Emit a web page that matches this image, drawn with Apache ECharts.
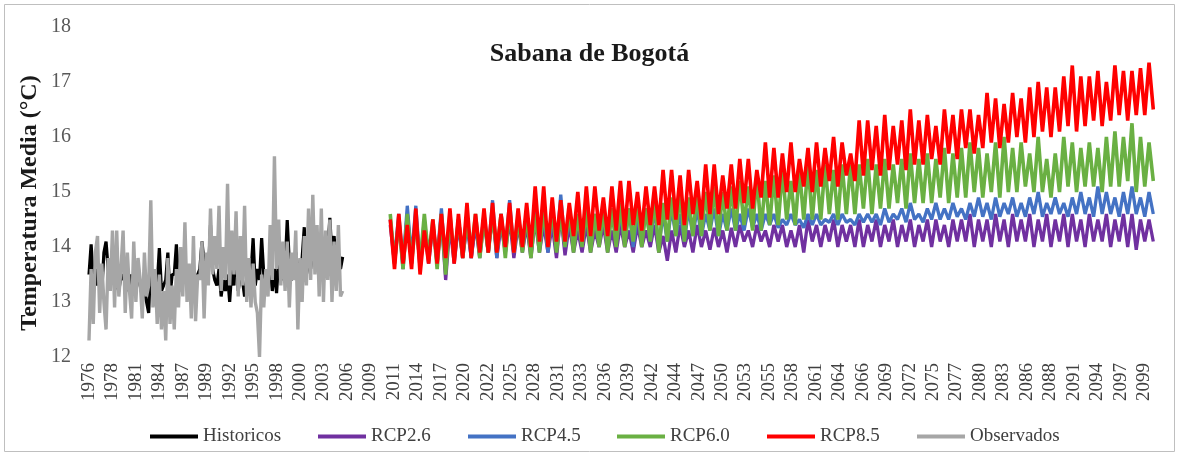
<!DOCTYPE html>
<html>
<head>
<meta charset="utf-8">
<script src="https://cdn.jsdelivr.net/npm/echarts@6/dist/echarts.min.js"></script>
<style>
  html, body { margin: 0; padding: 0; background: #ffffff; }
  #chart { width: 1179px; height: 458px; }
</style>
</head>
<body>
<div id="chart"></div>
<script>
// Monthly category axis, January 1976 to December 2100
const firstYear = 1976;
const lastYear = 2100;

// Historical period (quarterly readings, 1976-2005)
const histStart = 1976;
const historicos = [
  13.5, 14.05, 13.4, 13.6,   13.3, 13.5, 13.2, 13.9,   14.1, 13.6, 13.3, 13.5,
  13.6, 13.3, 13.2, 13.5,    13.4, 13.6, 13.2, 13.3,   13.5, 13.2, 13.4, 13.6,
  13.3, 13.1, 13.2, 13.0,    12.8, 13.8, 13.1, 13.4,   13.3, 13.98, 13.2, 13.3,
  13.4, 13.9, 13.1, 13.5,    13.5, 14.05, 13.4, 13.2,  13.5, 13.4, 13.6, 13.3,
  13.2, 13.4, 13.3, 13.5,    13.6, 14.1, 13.7, 13.5,   13.5, 14.4, 13.6, 13.4,
  13.3, 13.6, 13.1, 13.4,    13.2, 13.5, 13.0, 13.6,   13.3, 14.1, 13.2, 13.5,
  13.4, 13.1, 13.3, 13.2,    13.5, 14.16, 13.3, 13.6,  13.4, 14.16, 13.5, 13.3,
  13.4, 13.7, 13.2, 13.6,    13.16, 13.8, 13.5, 13.4,  13.6, 14.49, 13.7, 13.4,
  13.5, 13.9, 13.6, 13.7,    13.8, 14.36, 13.5, 13.7,  13.6, 14.1, 13.7, 13.9,
  13.5, 13.9, 13.6, 13.8,    13.9, 14.53, 13.8, 14.2,  13.7, 13.9, 13.6, 13.82
];
const observados = [
  12.3, 13.6, 12.6, 13.9,    14.2, 12.8, 13.7, 13.0,   12.5, 13.8, 13.2, 14.3,
  12.9, 14.3, 13.1, 13.6,    14.3, 12.8, 13.9, 13.2,   12.7, 14.1, 13.0, 13.8,
  13.4, 12.7, 13.9, 13.1,    13.3, 14.85, 12.9, 13.6,  12.6, 13.5, 12.5, 13.2,
  12.3, 13.8, 12.6, 13.3,    12.5, 13.6, 12.9, 14.0,   13.1, 14.45, 13.0, 13.7,
  12.7, 14.2, 12.65, 13.5,   13.4, 14.1, 12.7, 13.9,   13.3, 14.7, 13.5, 14.2,
  13.6, 14.75, 13.2, 14.0,   13.4, 15.15, 13.3, 14.3,  13.5, 14.65, 13.1, 14.2,
  13.3, 14.75, 13.0, 13.8,   12.9, 13.7, 13.0, 12.8,   12.0, 13.5, 12.9, 13.6,
  13.1, 14.4, 13.4, 15.65,   13.6, 14.5, 13.3, 14.1,   13.2, 14.1, 12.9, 13.9,
  13.4, 14.3, 12.5, 13.8,    13.0, 14.2, 13.3, 14.7,   13.4, 14.95, 13.5, 14.4,
  13.1, 14.7, 13.0, 14.3,    13.4, 14.5, 13.0, 14.1,   13.2, 14.4, 13.1, 13.2
];

// Scenario period (yearly seasonal high and low, 2011-2100)
const projStart = 2011;
const rcp26High = [
  14.4, 14.5, 14.6, 14.6, 14.4, 14.4, 14.5, 14.4, 14.4, 14.4,
  14.4, 14.5, 14.6, 14.4, 14.5, 14.4, 14.4, 14.5, 14.4, 14.4,
  14.6, 14.4, 14.3, 14.4, 14.3, 14.4, 14.3, 14.4, 14.3, 14.4,
  14.3, 14.4, 14.2, 14.3, 14.4, 14.3, 14.4, 14.3, 14.35, 14.3,
  14.35, 14.4, 14.3, 14.4, 14.3, 14.4, 14.4, 14.3, 14.4, 14.5,
  14.4, 14.4, 14.5, 14.4, 14.4, 14.5, 14.4, 14.5, 14.4, 14.5,
  14.4, 14.5, 14.4, 14.5, 14.5, 14.4, 14.5, 14.5, 14.6, 14.5,
  14.5, 14.6, 14.5, 14.6, 14.5, 14.6, 14.5, 14.6, 14.5, 14.6,
  14.6, 14.5, 14.6, 14.5, 14.6, 14.5, 14.6, 14.6, 14.5, 14.5
];
const rcp26Low = [
  13.7, 13.6, 13.7, 13.6, 13.7, 13.7, 13.4, 13.7, 13.8, 13.8,
  13.8, 13.9, 13.8, 13.9, 13.8, 13.9, 13.8, 13.9, 13.9, 13.8,
  13.85, 13.9, 13.9, 13.9, 14.0, 13.9, 13.9, 14.0, 13.9, 14.0,
  14.0, 13.9, 13.75, 13.9, 14.0, 13.9, 14.0, 13.95, 14.0, 13.9,
  14.0, 14.1, 14.0, 14.1, 14.0, 14.1, 14.0, 14.0, 13.9, 14.1,
  14.0, 14.1, 14.0, 14.1, 14.0, 14.0, 14.1, 14.0, 14.1, 14.0,
  14.1, 14.0, 14.1, 14.0, 14.1, 14.0, 14.1, 14.1, 14.0, 14.1,
  14.0, 14.1, 14.0, 14.1, 14.1, 14.0, 14.1, 14.0, 14.1, 14.0,
  14.1, 14.0, 14.1, 14.1, 14.0, 14.1, 14.0, 13.95, 14.1, 14.1
];
const rcp45High = [
  14.5, 14.6, 14.75, 14.75, 14.5, 14.4, 14.7, 14.5, 14.5, 14.6,
  14.5, 14.6, 14.85, 14.6, 14.85, 14.6, 14.6, 14.7, 14.6, 14.6,
  14.95, 14.6, 14.6, 14.7, 14.6, 14.6, 14.7, 14.6, 14.7, 14.6,
  14.7, 14.7, 14.6, 14.7, 14.6, 14.7, 14.7, 14.6, 14.7, 14.6,
  14.7, 14.6, 14.7, 14.6, 14.6, 14.6, 14.5, 14.6, 14.5, 14.6,
  14.6, 14.5, 14.6, 14.6, 14.5, 14.6, 14.6, 14.6, 14.7, 14.6,
  14.7, 14.8, 14.6, 14.7, 14.8, 14.7, 14.8, 14.7, 14.8, 14.9,
  14.8, 14.9, 14.8, 14.9, 14.8, 14.9, 15.0, 14.8, 14.9, 14.8,
  14.9, 15.0, 14.9, 15.1, 15.0, 14.9, 15.0, 15.1, 14.9, 15.0
];
const rcp45Low = [
  13.8, 13.7, 13.8, 13.7, 13.8, 13.8, 13.7, 13.8, 13.9, 13.8,
  13.9, 13.9, 13.8, 13.9, 13.9, 14.0, 13.9, 14.0, 13.9, 14.0,
  14.0, 14.0, 14.1, 14.0, 14.1, 14.0, 14.1, 14.1, 14.0, 14.1,
  14.1, 14.0, 14.1, 14.2, 14.1, 14.2, 14.2, 14.3, 14.2, 14.3,
  14.3, 14.3, 14.35, 14.3, 14.4, 14.35, 14.4, 14.4, 14.35, 14.4,
  14.4, 14.45, 14.4, 14.45, 14.4, 14.45, 14.45, 14.4, 14.45, 14.5,
  14.45, 14.5, 14.45, 14.5, 14.5, 14.5, 14.55, 14.5, 14.55, 14.55,
  14.5, 14.55, 14.6, 14.55, 14.55, 14.6, 14.55, 14.6, 14.6, 14.55,
  14.6, 14.6, 14.55, 14.6, 14.6, 14.55, 14.6, 14.6, 14.55, 14.6
];
const rcp60High = [
  14.6, 14.5, 14.6, 14.5, 14.6, 14.5, 14.6, 14.6, 14.5, 14.5,
  14.6, 14.5, 14.6, 14.6, 14.7, 14.5, 14.6, 14.6, 14.7, 14.7,
  14.6, 14.7, 14.6, 14.7, 14.6, 14.7, 14.7, 14.8, 14.7, 14.8,
  14.7, 14.9, 14.8, 14.9, 15.0, 14.9, 15.0, 15.0, 15.1, 15.0,
  15.1, 15.2, 15.1, 15.3, 15.2, 15.3, 15.4, 15.2, 15.4, 15.5,
  15.4, 15.5, 15.4, 15.5, 15.5, 15.5, 15.6, 15.5, 15.6, 15.5,
  15.6, 15.7, 15.6, 15.7, 15.6, 15.8, 15.7, 15.8, 15.9, 15.8,
  15.7, 15.9, 16.0, 15.8, 15.9, 15.7, 16.0, 15.6, 15.7, 16.0,
  15.9, 15.8, 15.9, 15.8, 16.0, 16.1, 16.0, 16.25, 16.0, 15.9
];
const rcp60Low = [
  13.7, 13.6, 13.7, 13.7, 13.8, 13.6, 13.5, 13.8, 13.8, 13.9,
  13.8, 13.9, 13.9, 13.8, 13.9, 13.9, 13.8, 13.9, 14.0, 13.9,
  14.0, 13.9, 14.0, 13.9, 14.0, 13.9, 14.0, 14.0, 14.1, 14.0,
  14.1, 13.9, 14.1, 14.2, 14.1, 14.2, 14.2, 14.3, 14.2, 14.3,
  14.3, 14.4, 14.3, 14.3, 14.4, 14.4, 14.5, 14.4, 14.5, 14.5,
  14.5, 14.6, 14.5, 14.6, 14.6, 14.7, 14.6, 14.7, 14.7, 14.8,
  14.7, 14.8, 14.8, 14.8, 14.9, 14.8, 14.9, 14.9, 15.0, 14.9,
  15.0, 14.9, 15.0, 15.0, 15.1, 15.0, 15.0, 14.9, 15.0, 15.1,
  15.0, 15.1, 15.1, 15.0, 15.1, 15.1, 15.2, 15.0, 15.1, 15.2
];
const rcp85High = [
  14.5, 14.6, 14.4, 14.7, 14.3, 14.5, 14.6, 14.7, 14.6, 14.8,
  14.6, 14.7, 14.8, 14.6, 14.8, 14.7, 14.8, 15.1, 15.1, 14.9,
  14.85, 14.8, 15.0, 15.1, 15.1, 14.9, 15.1, 15.2, 15.2, 15.0,
  15.1, 15.1, 15.4, 15.4, 15.3, 15.4, 15.2, 15.5, 15.5, 15.3,
  15.5, 15.6, 15.6, 15.4, 15.9, 15.8, 15.7, 15.9, 15.6, 15.8,
  15.9, 15.8, 16.0, 15.9, 15.7, 16.3, 16.3, 16.2, 16.4, 16.2,
  16.3, 16.5, 16.3, 16.4, 16.2, 16.5, 16.4, 16.5, 16.5, 16.4,
  16.8, 16.7, 16.6, 16.8, 16.7, 16.9, 17.0, 16.9, 16.9, 17.1,
  17.3, 17.1, 17.1, 17.2, 17.0, 17.3, 17.2, 17.2, 17.25, 17.35
];
const rcp85Low = [
  13.6, 13.7, 13.6, 13.5, 13.7, 13.7, 13.8, 13.7, 13.8, 13.8,
  13.9, 13.9, 13.9, 14.0, 13.9, 14.0, 14.0, 14.1, 14.0, 14.1,
  14.1, 14.2, 14.1, 14.2, 14.3, 14.2, 14.3, 14.3, 14.4, 14.3,
  14.4, 14.4, 14.5, 14.5, 14.4, 14.6, 14.5, 14.6, 14.6, 14.7,
  14.7, 14.8, 14.7, 14.9, 14.9, 14.9, 15.0, 15.0, 15.1, 15.0,
  15.1, 15.2, 15.1, 15.3, 15.2, 15.3, 15.4, 15.3, 15.4, 15.5,
  15.4, 15.5, 15.5, 15.6, 15.5, 15.7, 15.6, 15.8, 15.7, 15.8,
  15.9, 15.8, 15.9, 16.0, 15.9, 16.0, 16.1, 16.0, 16.1, 16.2,
  16.1, 16.2, 16.3, 16.2, 16.3, 16.4, 16.3, 16.4, 16.4, 16.5
];

const seriesNames = ['Historicos', 'RCP2.6', 'RCP4.5', 'RCP6.0', 'RCP8.5', 'Observados'];
const seriesColors = ['#000000', '#7030A0', '#4472C4', '#6AB043', '#FF0000', '#A6A6A6'];
const yTicks = { min: 12, max: 18, step: 1 };

const pad = m => String(m).padStart(2, '0');
const months = [];
for (let y = firstYear; y <= lastYear; y++) {
  for (let m = 1; m <= 12; m++) months.push(y + '-' + pad(m));
}
// position of a given year/month on the monthly category axis
const monthIndex = (year, month) => (year - firstYear) * 12 + (month - 1);

// quarterly readings: Jan, Apr, Jul, Oct
function quarterly(vals, startYear) {
  return vals.map((v, k) => [monthIndex(startYear + Math.floor(k / 4), (k % 4) * 3 + 1), v]);
}
// seasonal cycle: high in May, low in November
function seasonal(highs, lows, startYear) {
  const out = [];
  highs.forEach((h, i) => {
    const y = startYear + i;
    out.push([monthIndex(y, 5), h]);
    out.push([monthIndex(y, 11), lows[i]]);
  });
  return out;
}

const seriesData = [
  quarterly(historicos, histStart),
  seasonal(rcp26High, rcp26Low, projStart),
  seasonal(rcp45High, rcp45Low, projStart),
  seasonal(rcp60High, rcp60Low, projStart),
  seasonal(rcp85High, rcp85Low, projStart),
  quarterly(observados, histStart)
];
const lineWidths = [3.2, 3.3, 3.3, 3.6, 3.6, 3.4];

const serif = '"Liberation Serif", "Times New Roman", serif';
const legendLeft = [145, 313, 463, 612, 762, 912];

const chart = echarts.init(document.getElementById('chart'), null, { renderer: 'canvas' });
chart.setOption({
  backgroundColor: '#ffffff',
  animation: false,
  title: {
    text: 'Sabana de Bogotá',
    left: 'center',
    top: 36,
    textStyle: { fontFamily: serif, fontWeight: 'bold', fontSize: 26, color: '#1a1a1a' }
  },
  legend: seriesNames.map((n, i) => ({
    data: [n],
    left: legendLeft[i],
    top: 422,
    icon: 'rect',
    itemWidth: 48,
    itemHeight: 4,
    itemGap: 6,
    textStyle: { fontFamily: serif, fontSize: 19, color: '#404040' }
  })),
  grid: { left: 89, right: 25, top: 27, bottom: 101, containLabel: false },
  xAxis: {
    type: 'category',
    data: months,
    boundaryGap: false,
    axisLine: { show: false },
    axisTick: { show: false },
    axisLabel: {
      interval: 32,
      rotate: 90,
      margin: 6,
      fontFamily: serif,
      fontSize: 19,
      color: '#404040',
      formatter: v => v.slice(0, 4)
    }
  },
  yAxis: {
    type: 'value',
    min: yTicks.min,
    max: yTicks.max,
    interval: yTicks.step,
    axisLine: { show: false },
    axisTick: { show: false },
    splitLine: { show: false },
    axisLabel: { fontFamily: serif, fontSize: 20, color: '#595959', margin: 18 }
  },
  graphic: [
    {
      type: 'rect',
      shape: { x: 4.5, y: 4.5, width: 1170, height: 447 },
      style: { fill: 'none', stroke: '#BFBFBF', lineWidth: 1 },
      silent: true
    },
    {
      type: 'text',
      x: 30,
      y: 203,
      rotation: Math.PI / 2,
      style: {
        text: 'Temperatura Media (°C)',
        fontFamily: serif,
        fontWeight: 'bold',
        fontSize: 24,
        fill: '#1a1a1a',
        align: 'center',
        verticalAlign: 'middle'
      },
      silent: true
    }
  ],
  series: seriesNames.map((n, i) => ({
    name: n,
    type: 'line',
    data: seriesData[i],
    showSymbol: false,
    symbol: 'none',
    color: seriesColors[i],
    lineStyle: { width: lineWidths[i], color: seriesColors[i] },
    emphasis: { disabled: true },
    silent: true
  }))
});
</script>
</body>
</html>
